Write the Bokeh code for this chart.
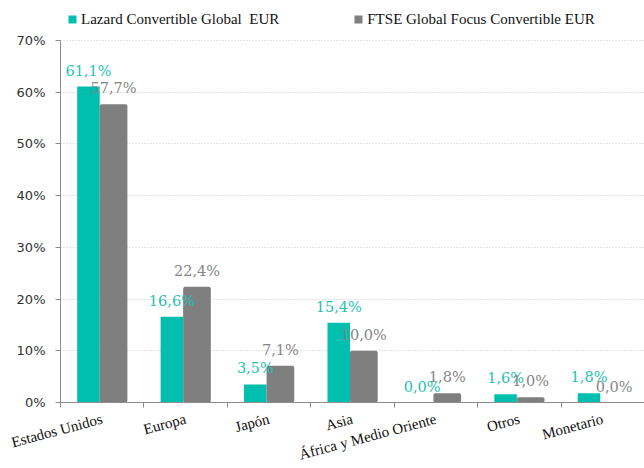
from bokeh.plotting import figure
from bokeh.models import (ColumnDataSource, Range1d, FixedTicker, PrintfTickFormatter,
                          Legend, LegendItem)
from bokeh.core.properties import value
from bokeh.embed import file_html
from bokeh.resources import INLINE
import numpy as np

categories = ["Estados Unidos", "Europa", "Japón", "Asia",
              "África y Medio Oriente", "Otros", "Monetario"]
lazard = [61.1, 16.6, 3.5, 15.4, 0.0, 1.6, 1.8]
ftse = [57.7, 22.4, 7.1, 10.0, 1.8, 1.0, 0.0]
y_ticks = [0, 10, 20, 30, 40, 50, 60, 70]
series_names = ["Lazard Convertible Global  EUR", "FTSE Global Focus Convertible EUR"]

TEAL = "#00BFAE"
TEAL_TXT = "#1DC3B3"
GRAY = "#7F7F7F"
AXIS = "#8C8C8C"

centers = np.arange(len(categories)) + 0.5
x_teal = centers - 0.165
x_gray = centers + 0.136


def fmt(v):
    return f"{v:.1f}%".replace(".", ",")


src_a = ColumnDataSource(dict(x=x_teal, top=lazard, label=[fmt(v) for v in lazard]))
src_b = ColumnDataSource(dict(x=x_gray, top=ftse, label=[fmt(v) for v in ftse]))

# frame spans from the very top so the legend can sit inside it;
# the value axis itself is bounded to 0-70 %
p = figure(frame_width=584, frame_height=402, x_range=Range1d(0, 7), y_range=Range1d(0, 77.74),
           output_backend="svg", toolbar_location=None,
           min_border_left=60, min_border_right=0, min_border_top=0, min_border_bottom=66)
p.outline_line_color = None

r_a = p.vbar(x="x", top="top", bottom=0, width=0.27, source=src_a,
             fill_color=TEAL, line_color=None)
r_b = p.vbar(x="x", top="top", bottom=0, width=0.332, source=src_b,
             fill_color=GRAY, line_color=None, border_radius=2)

p.text(x="x", y="top", text="label", source=src_a, text_color=TEAL_TXT,
       text_font=value("DejaVu Serif"), text_font_size="14.5px",
       text_align="center", text_baseline="middle", y_offset=-16)
p.text(x="x", y="top", text="label", source=src_b, text_color="#858585",
       text_font=value("DejaVu Serif"), text_font_size="14.5px",
       text_align="center", text_baseline="middle", y_offset=-16)

# x axis: labels at category centres, ticks at category boundaries
p.xaxis.ticker = FixedTicker(ticks=[float(c) for c in centers],
                             minor_ticks=list(range(len(categories) + 1)))
p.xaxis.major_label_overrides = {float(c): n for c, n in zip(centers, categories)}
p.xaxis.major_tick_line_color = None
p.xaxis.major_tick_in = 0
p.xaxis.major_tick_out = 0
p.xaxis.minor_tick_in = 0
p.xaxis.minor_tick_out = 5
p.xaxis.minor_tick_line_color = AXIS
p.xaxis.axis_line_color = AXIS
p.xaxis.major_label_orientation = 0.26
p.xaxis.major_label_text_font = "Liberation Serif"
p.xaxis.major_label_text_font_size = "15px"
p.xaxis.major_label_text_color = "#111111"
p.xaxis.major_label_standoff = 11
p.xgrid.visible = False

# y axis
p.yaxis.ticker = FixedTicker(ticks=y_ticks)
p.yaxis.bounds = (0, 70)
p.yaxis.formatter = PrintfTickFormatter(format="%d%%")
p.yaxis.major_tick_in = 0
p.yaxis.major_tick_out = 5
p.yaxis.major_tick_line_color = AXIS
p.yaxis.minor_tick_line_color = None
p.yaxis.axis_line_color = AXIS
p.yaxis.major_label_text_font = "DejaVu Sans"
p.yaxis.major_label_text_font_size = "13px"
p.yaxis.major_label_text_color = "#333333"
p.yaxis.major_label_standoff = 10
p.ygrid.ticker = FixedTicker(ticks=y_ticks)
p.ygrid.grid_line_color = "#C8C8C8"
p.ygrid.grid_line_dash = "1 2"

legend = Legend(items=[LegendItem(label=series_names[0], renderers=[r_a]),
                       LegendItem(label=series_names[1], renderers=[r_b])],
                orientation="horizontal", location=(7, 373),
                glyph_width=10, glyph_height=10, label_height=20,
                label_standoff=4, spacing=74, padding=0, margin=0,
                border_line_color=None, background_fill_alpha=0,
                label_text_font="Liberation Serif", label_text_font_size="15px",
                label_text_color="#111111")
p.add_layout(legend, "center")

open("out.html", "w").write(file_html(p, INLINE))
